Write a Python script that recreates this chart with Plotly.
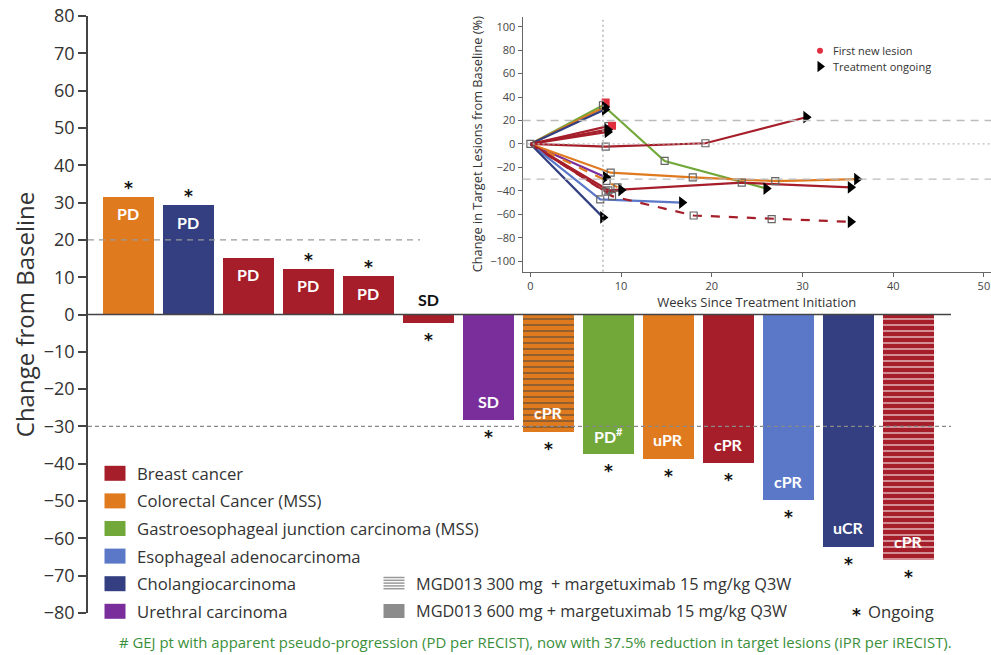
import plotly.graph_objects as go

# ---------------- data ----------------
bar_values = [31.5, 29.3, 15.2, 12.2, 10.3, -2.4, -28.3, -31.4, -37.5, -38.6, -39.9, -49.8, -62.3, -65.9]
bar_cancer = ["Colorectal", "Cholangio", "Breast", "Breast", "Breast", "Breast", "Urethral",
              "Colorectal", "GEJ", "Colorectal", "Breast", "Esophageal", "Cholangio", "Breast"]
bar_dose = [600, 600, 600, 600, 600, 600, 600, 300, 600, 600, 600, 600, 600, 300]
bar_response = ["PD", "PD", "PD", "PD", "PD", "SD", "SD", "cPR", "PD<sup>#</sup>", "uPR", "cPR", "cPR", "uCR", "cPR"]
bar_ongoing = [1, 1, 0, 1, 1, 1, 1, 1, 1, 1, 1, 1, 1, 1]

legend_cancers = ["Breast", "Colorectal", "GEJ", "Esophageal", "Cholangio", "Urethral"]
legend_labels = ["Breast cancer", "Colorectal Cancer (MSS)", "Gastroesophageal junction carcinoma (MSS)",
                 "Esophageal adenocarcinoma", "Cholangiocarcinoma", "Urethral carcinoma"]
dose_labels = ["MGD013 300 mg \u00a0+ margetuximab 15 mg/kg Q3W", "MGD013 600 mg + margetuximab 15 mg/kg Q3W"]
main_ticks = list(range(-80, 81, 10))

# spider plot (inset): (cancer, dash, weeks, values, ongoing at end)
spider = [
    ("GEJ", "solid", [0, 8.0, 14.8, 26.0], [0, 33, -14.5, -38], True),
    ("Colorectal", "solid", [0, 8.2], [0, 31.5], True),
    ("Cholangio", "solid", [0, 8.2], [0, 29.3], True),
    ("Breast", "solid", [0, 8.6], [0, 15.2], False),
    ("Breast", "solid", [0, 8.5], [0, 12.2], True),
    ("Breast", "solid", [0, 8.5], [0, 10.3], True),
    ("Breast", "solid", [0, 8.3, 19.3, 30.4], [0, -2.3, 0.6, 22.8], True),
    ("Urethral", "solid", [0, 8.3], [0, -28.3], True),
    ("Colorectal", "dash", [0, 8.4, 9.6], [0, -31.4, -37.0], False),
    ("Colorectal", "solid", [0, 8.85, 17.9, 27.0, 36.0], [0, -24.5, -28.5, -31.6, -30.0], True),
    ("Breast", "solid", [0, 8.3, 10.0], [0, -40.7, -39.3], True),
    ("Breast", "solid", [0, 8.6, 23.3, 35.3], [0, -39.5, -33.0, -37.0], True),
    ("Esophageal", "solid", [0, 7.7, 16.7], [0, -47.3, -50.0], True),
    ("Cholangio", "solid", [0, 8.0], [0, -62.6], True),
    ("Breast", "dash", [0, 9.0, 18.0, 26.6, 35.3], [0, -44.5, -61.0, -64.0, -66.4], True),
]
new_lesion_weeks = [8.3, 9.0]
new_lesion_values = [35.3, 15.5]
inset_xticks = [0, 10, 20, 30, 40, 50]
inset_yticks = list(range(-100, 101, 20))

colors = {
    "Breast": "#A51E2A",
    "Colorectal": "#E07A1F",
    "GEJ": "#72A83A",
    "Esophageal": "#5B78C8",
    "Cholangio": "#333F80",
    "Urethral": "#7A2E9C",
}

FONT = "Lato, Open Sans, DejaVu Sans, sans-serif"
OFONT = "Open Sans, Lato, DejaVu Sans, sans-serif"
AFONT = "DejaVu Sans, sans-serif"
TXT = "#333333"

W, H = 991, 655
ML, MR, MT, MB = 88, 0, 16, 42
PW, PH = W - ML - MR, H - MT - MB


def PX(px):
    return (px - ML) / PW


def PY(py):
    return (H - MB - py) / PH


# main x axis: bar i centred at pixel 128 + 60*i
x_left = (ML - 128) / 60.0
x_right = (W - MR - 128) / 60.0
x_end = (951 - 128) / 60.0

fig = go.Figure()

idx = list(range(len(bar_values)))
fig.add_trace(go.Bar(
    x=idx, y=bar_values, width=0.85,
    marker=dict(
        color=[colors[c] for c in bar_cancer],
        line=dict(width=0),
        pattern=dict(
            shape=["-" if d == 300 else "" for d in bar_dose],
            fgcolor="white", fillmode="overlay", size=6, solidity=0.34,
        ),
    ),
    showlegend=False, hoverinfo="skip",
))

# bar labels and ongoing asterisks
for i, (v, r, og) in enumerate(zip(bar_values, bar_response, bar_ongoing)):
    if abs(v) < 5:
        fig.add_annotation(x=i, y=0, text="<b>%s</b>" % r, showarrow=False,
                           yshift=15, font=dict(family=FONT, size=16, color="#111"))
    else:
        fig.add_annotation(x=i, y=v, text="<b>%s</b>" % r, showarrow=False,
                           yshift=-17 if v > 0 else 19,
                           font=dict(family=FONT, size=16, color="white"))
    if og:
        fig.add_annotation(x=i, y=v, text="<b>*</b>", showarrow=False,
                           yshift=9 if v > 0 else -17,
                           font=dict(family=AFONT, size=17, color="#111"))

# reference lines in main chart
fig.add_shape(type="line", xref="x", yref="y", x0=x_left, x1=x_end, y0=0, y1=0,
              line=dict(color="#444", width=1.5))
fig.add_shape(type="line", xref="x", yref="y", x0=x_left, x1=(420 - 128) / 60.0, y0=20, y1=20,
              line=dict(color="#999", width=1.2, dash="6px,5px"))
fig.add_shape(type="line", xref="x", yref="y", x0=x_left, x1=x_end, y0=-30, y1=-30,
              line=dict(color="#888", width=1.2, dash="4px,3px"))

# ---------------- inset spider plot ----------------
sq_x, sq_y, tri_x, tri_y = [0], [0], [], []
for cancer, dash, wk, val, og in spider:
    fig.add_trace(go.Scatter(
        x=wk, y=val, xaxis="x2", yaxis="y2", mode="lines",
        line=dict(color=colors[cancer], width=2.2, dash=dash),
        showlegend=False, hoverinfo="skip",
    ))
    mids = wk[1:-1] if og else wk[1:]
    midv = val[1:-1] if og else val[1:]
    if og:
        tri_x.append(wk[-1])
        tri_y.append(val[-1])
    sq_x += mids
    sq_y += midv

fig.add_trace(go.Scatter(
    x=sq_x, y=sq_y, xaxis="x2", yaxis="y2", mode="markers",
    marker=dict(symbol="square-open", size=7, color="#666", line=dict(width=1.2)),
    showlegend=False, hoverinfo="skip",
))
fig.add_trace(go.Scatter(
    x=new_lesion_weeks, y=new_lesion_values, xaxis="x2", yaxis="y2", mode="markers",
    marker=dict(symbol="square", size=8, color="#E0303F"),
    showlegend=False, hoverinfo="skip",
))
fig.add_trace(go.Scatter(
    x=tri_x, y=tri_y, xaxis="x2", yaxis="y2", mode="markers",
    marker=dict(symbol="triangle-right", size=11, color="black"),
    showlegend=False, hoverinfo="skip",
))

# inset legend
leg_w = (820 - 530.4) / 9.07
fig.add_trace(go.Scatter(
    x=[leg_w], y=[79.5], xaxis="x2", yaxis="y2", mode="markers",
    marker=dict(symbol="circle", size=6, color="#E0303F"), showlegend=False, hoverinfo="skip"))
fig.add_trace(go.Scatter(
    x=[leg_w], y=[66], xaxis="x2", yaxis="y2", mode="markers",
    marker=dict(symbol="triangle-right", size=10, color="black"), showlegend=False, hoverinfo="skip"))
for yv, t in [(79.5, "First new lesion"), (66, "Treatment ongoing")]:
    fig.add_annotation(x=leg_w + 1.2, y=yv, xref="x2", yref="y2", text=t, showarrow=False,
                       xanchor="left", font=dict(family=OFONT, size=11, color="#333"))

# inset reference lines
for yv, dsh, col in [(20, "8px,6px", "#bbb"), (-30, "8px,6px", "#bbb"), (0, "2px,3px", "#bbb")]:
    fig.add_shape(type="line", xref="x2 domain", yref="y2", x0=0, x1=1, y0=yv, y1=yv,
                  line=dict(color=col, width=1.3, dash=dsh))
fig.add_shape(type="line", xref="x2", yref="y2 domain", x0=8, x1=8, y0=0, y1=1,
              line=dict(color="#aaa", width=1.3, dash="2px,3px"))

# ---------------- main legend ----------------
leg_y = [473.3, 500.9, 528.5, 556.1, 583.7, 611.3]
for c, lab, yy in zip(legend_cancers, legend_labels, leg_y):
    fig.add_shape(type="rect", xref="paper", yref="paper",
                  x0=PX(104.5), x1=PX(125.5), y0=PY(yy + 7.5), y1=PY(yy - 7.5),
                  fillcolor=colors[c], line=dict(width=0))
    fig.add_annotation(xref="paper", yref="paper", x=PX(135), y=PY(yy), text=lab, showarrow=False,
                       xanchor="left", yanchor="middle", font=dict(family=OFONT, size=16.7, color=TXT))

# dose legend icons
for k in range(5):
    yy = 577.5 + k * 2.8
    fig.add_shape(type="line", xref="paper", yref="paper", x0=PX(383.5), x1=PX(404.5),
                  y0=PY(yy), y1=PY(yy), line=dict(color="#999", width=1.5))
fig.add_shape(type="rect", xref="paper", yref="paper", x0=PX(383.5), x1=PX(404.5),
              y0=PY(618), y1=PY(604), fillcolor="#8c8c8c", line=dict(width=0))
for lab, yy in zip(dose_labels, [583.7, 611.3]):
    fig.add_annotation(xref="paper", yref="paper", x=PX(414), y=PY(yy), text=lab, showarrow=False,
                       xanchor="left", yanchor="middle", font=dict(family=OFONT, size=16.3, color=TXT))
fig.add_annotation(xref="paper", yref="paper", x=PX(850), y=PY(615), text="<b>*</b>", showarrow=False,
                   xanchor="left", yanchor="middle", font=dict(family=AFONT, size=17, color="#111"))
fig.add_annotation(xref="paper", yref="paper", x=PX(866), y=PY(611.3), text="Ongoing", showarrow=False,
                   xanchor="left", yanchor="middle", font=dict(family=OFONT, size=16.7, color=TXT))

# footnote
fig.add_annotation(xref="paper", yref="paper", x=PX(117), y=PY(641.5),
                   text="# GEJ pt with apparent pseudo-progression (PD per RECIST), now with 37.5% reduction in target lesions (iPR per iRECIST).",
                   showarrow=False, xanchor="left", yanchor="middle",
                   font=dict(family=OFONT, size=14.9, color="#3B8F3B"))

fig.update_layout(
    width=W, height=H,
    margin=dict(l=ML, r=MR, t=MT, b=MB),
    paper_bgcolor="white", plot_bgcolor="rgba(0,0,0,0)",
    font=dict(family=FONT, color=TXT),
    bargap=0,
    xaxis=dict(range=[x_left, x_right], visible=False, fixedrange=True),
    yaxis=dict(
        range=[-80, 80], tickvals=main_ticks, ticks="outside", ticklen=8, tickwidth=1.5,
        tickcolor="#444", showline=True, linecolor="#444", linewidth=1.5,
        showgrid=False, zeroline=False, tickfont=dict(family=OFONT, size=18, color=TXT),
        title=dict(text="Change from Baseline", font=dict(family=OFONT, size=24, color=TXT), standoff=2),
    ),
    xaxis2=dict(
        domain=[PX(522.6), 1.0], range=[(522.6 - 530.4) / 9.07, (W - 530.4) / 9.07], anchor="y2",
        tickvals=inset_xticks, ticks="outside", ticklen=4, tickcolor="#666", showline=True,
        linecolor="#666", linewidth=1.2, showgrid=False, zeroline=False,
        tickfont=dict(family=OFONT, size=11, color="#444"),
        title=dict(text="Weeks Since Treatment Initiation", font=dict(family=OFONT, size=13, color="#333"), standoff=2),
    ),
    yaxis2=dict(
        domain=[PY(271.7), PY(16.7)], range=[-108.9, 108.5], anchor="x2",
        tickvals=inset_yticks, ticks="outside", ticklen=4, tickcolor="#666", showline=True,
        linecolor="#666", linewidth=1.2, showgrid=False, zeroline=False,
        tickfont=dict(family=OFONT, size=11, color="#444"),
        title=dict(text="Change in Target Lesions from Baseline (%)", font=dict(family=OFONT, size=12.8, color="#333"), standoff=4),
    ),
)

fig.write_html("out.html")
